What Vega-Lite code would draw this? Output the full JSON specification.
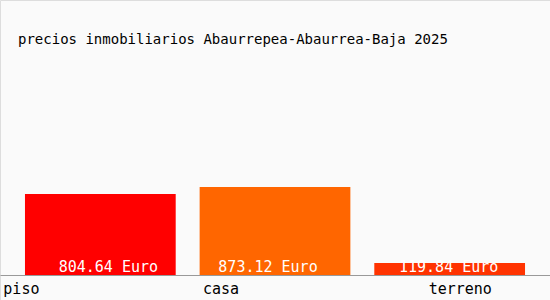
{
  "$schema": "https://vega.github.io/schema/vega-lite/v6.json",
  "width": 550,
  "height": 300,
  "autosize": {"type": "none"},
  "padding": 0,
  "background": "#fafafa",
  "config": {
    "view": {"stroke": "#dddddd", "fill": "#fafafa", "strokeWidth": 1},
    "font": "DejaVu Sans Mono"
  },
  "title": {
    "text": "precios inmobiliarios Abaurrepea-Abaurrea-Baja 2025",
    "anchor": "start",
    "frame": "group",
    "orient": "top",
    "offset": -58,
    "baseline": "alphabetic",
    "dx": 18,
    "font": "DejaVu Sans Mono",
    "fontSize": 14,
    "fontWeight": "normal",
    "color": "#000000"
  },
  "data": {
    "values": [
      {"tipo": "piso", "precio": 804.64, "etiqueta": "804.64 Euro"},
      {"tipo": "casa", "precio": 873.12, "etiqueta": "873.12 Euro"},
      {"tipo": "terreno", "precio": 119.84, "etiqueta": "119.84 Euro"}
    ]
  },
  "encoding": {
    "x": {
      "field": "tipo",
      "type": "nominal",
      "sort": null,
      "scale": {"paddingInner": 0.137, "paddingOuter": 0.143},
      "axis": {
        "title": null,
        "orient": "bottom",
        "offset": -25,
        "domainColor": "#999999",
        "domainWidth": 1,
        "ticks": false,
        "labelFont": "DejaVu Sans Mono",
        "labelFontSize": 15,
        "labelColor": "#000000",
        "labelAngle": 0,
        "labelAlign": "left",
        "labelBaseline": "alphabetic",
        "labelPadding": 18,
        "labelOffset": {
          "condition": [
            {"test": "datum.value == 'piso'", "value": -97},
            {"test": "datum.value == 'casa'", "value": -72}
          ],
          "value": -21
        }
      }
    }
  },
  "layer": [
    {
      "mark": {"type": "bar"},
      "encoding": {
        "y": {
          "field": "precio",
          "type": "quantitative",
          "scale": {"domain": [0, 2731], "range": [275, 0], "zero": true, "nice": false},
          "axis": null
        },
        "color": {
          "field": "tipo",
          "type": "nominal",
          "scale": {"domain": ["piso", "casa", "terreno"], "range": ["#ff0000", "#ff6600", "#ff3300"]},
          "legend": null
        }
      }
    },
    {
      "mark": {
        "type": "text",
        "color": "#ffffff",
        "font": "DejaVu Sans Mono",
        "fontSize": 15,
        "baseline": "alphabetic",
        "align": "center",
        "dy": -3,
        "dx": {"expr": "datum.tipo == 'piso' ? 8 : datum.tipo == 'casa' ? -7 : -1"}
      },
      "encoding": {
        "y": {"datum": 0, "type": "quantitative", "scale": {"domain": [0, 2731], "range": [275, 0], "zero": true, "nice": false}},
        "text": {"field": "etiqueta"}
      }
    }
  ]
}
